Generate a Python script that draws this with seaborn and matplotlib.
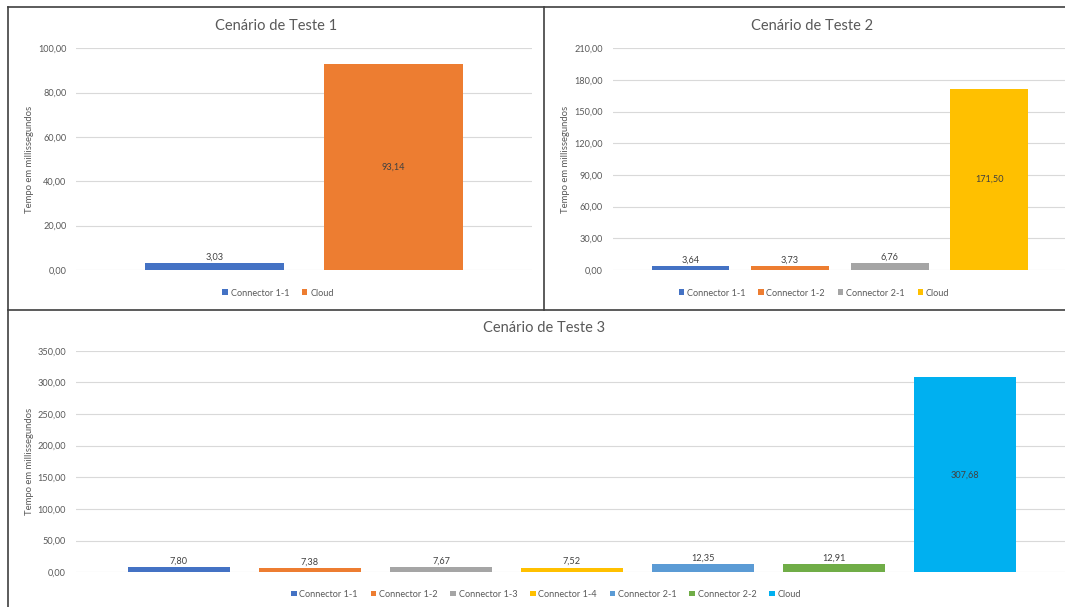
import matplotlib
matplotlib.use("Agg")
import matplotlib.pyplot as plt
import seaborn as sns
import pandas as pd
from matplotlib.ticker import FuncFormatter, MultipleLocator
from matplotlib.lines import Line2D

# data for the three test scenarios
t1_labels = ["Connector 1-1", "Cloud"]
t1_values = [3.03, 93.14]
t1_colors = ["#4472C4", "#ED7D31"]

t2_labels = ["Connector 1-1", "Connector 1-2", "Connector 2-1", "Cloud"]
t2_values = [3.64, 3.73, 6.76, 171.50]
t2_colors = ["#4472C4", "#ED7D31", "#A5A5A5", "#FFC000"]

t3_labels = ["Connector 1-1", "Connector 1-2", "Connector 1-3", "Connector 1-4",
             "Connector 2-1", "Connector 2-2", "Cloud"]
t3_values = [7.80, 7.38, 7.67, 7.52, 12.35, 12.91, 307.68]
t3_colors = ["#4472C4", "#ED7D31", "#A5A5A5", "#FFC000", "#5B9BD5", "#70AD47", "#00B0F0"]

plt.rcParams['font.family'] = ['Lato', 'DejaVu Sans']

W, H = 1065, 607
TXT = "#595959"
fig = plt.figure(figsize=(W / 100, H / 100), dpi=100)


def fx(x):
    return x / W


def fy(y):
    return 1 - y / H


def br(v):
    return f"{v:.2f}".replace(".", ",")


def draw(box, labels, values, colors, title, ymax, step, xlim, title_xy, legend_xy, ylab_x):
    left, right, top, bottom = box
    ax = fig.add_axes([fx(left), fy(bottom), fx(right) - fx(left), fy(top) - fy(bottom)])
    df = pd.DataFrame({"serie": labels, "tempo": values})
    sns.barplot(data=df, x="serie", y="tempo", hue="serie", palette=colors,
                width=0.78, dodge=False, saturation=1, legend=True, ax=ax)
    ax.set_ylim(0, ymax)
    ax.set_xlim(*xlim)
    ax.yaxis.set_major_locator(MultipleLocator(step))
    ax.yaxis.set_major_formatter(FuncFormatter(lambda v, p: br(v)))
    ax.grid(axis="y", color="#D9D9D9", lw=0.8)
    ax.set_axisbelow(True)
    for s in ax.spines.values():
        s.set_visible(False)
    ax.set_xticks([])
    ax.set_xlabel("")
    ax.tick_params(axis="y", length=0, pad=7, labelsize=6.6, labelcolor=TXT)
    ax.set_ylabel("Tempo em millissegundos", fontsize=6.8, color=TXT)
    # label anchor is the right side of the rotated text
    ax.yaxis.set_label_coords((ylab_x + 4.5 - left) / (right - left), 0.5)

    for cont, v in zip(ax.containers, values):
        if v > 0.3 * ymax:
            ax.bar_label(cont, labels=[br(v)], label_type="center", fontsize=6.6, color="#404040")
        else:
            ax.bar_label(cont, labels=[br(v)], padding=1, fontsize=6.6, color="#404040")

    ax.legend(loc="center", bbox_to_anchor=(fx(legend_xy[0]), fy(legend_xy[1])),
              bbox_transform=fig.transFigure, ncol=len(labels), frameon=False,
              fontsize=6.6, handlelength=0.6, handleheight=0.6, handletextpad=0.3,
              columnspacing=1.4, labelcolor=TXT)
    fig.text(fx(title_xy[0]), fy(title_xy[1]), title, ha="center", va="center",
             fontsize=10.5, color=TXT)
    return ax


draw((76, 532, 48.3, 270), t1_labels, t1_values, t1_colors, "Cenário de Teste 1",
     100, 20, (-0.78, 1.78), (276, 25.7), (278, 293), 30)
draw((612.7, 1065, 48.3, 270), t2_labels, t2_values, t2_colors, "Cenário de Teste 2",
     210, 30, (-0.78, 3.76), (812, 25.7), (814, 293), 565)
draw((75.8, 1065, 350.7, 572.3), t3_labels, t3_values, t3_colors, "Cenário de Teste 3",
     350, 50, (-0.787, 6.763), (543.6, 328), (546, 594.3), 29)

# panel borders
border = dict(transform=fig.transFigure, color="#404040", lw=1.2)
fig.add_artist(Line2D([fx(8.3), 1], [fy(7.3), fy(7.3)], **border))
fig.add_artist(Line2D([fx(8.3), fx(8.3)], [fy(7.3), 0], **border))
fig.add_artist(Line2D([fx(544), fx(544)], [fy(7.3), fy(310)], **border))
fig.add_artist(Line2D([fx(8.3), 1], [fy(310), fy(310)], **border))

fig.savefig("out.png", dpi=100, facecolor="white")
